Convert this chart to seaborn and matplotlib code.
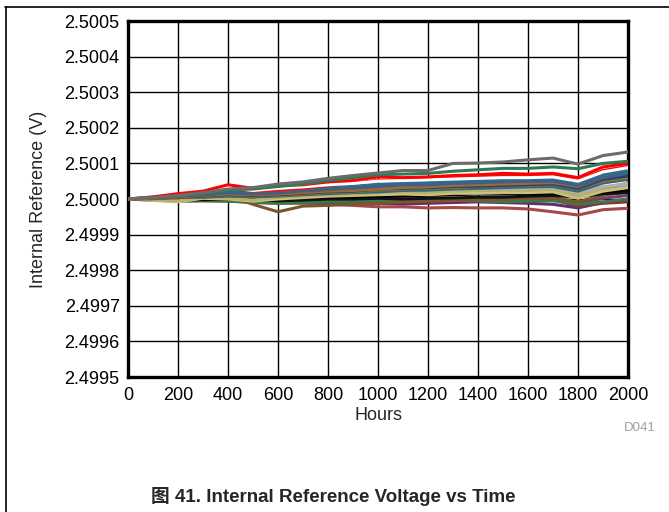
import numpy as np
import pandas as pd
import matplotlib
matplotlib.use("Agg")
import matplotlib.pyplot as plt
from matplotlib.lines import Line2D
import seaborn as sns

# time axis (hours)
hours = [0, 100, 200, 300, 400, 500, 600, 700, 800, 900, 1000,
         1100, 1200, 1300, 1400, 1500, 1600, 1700, 1800, 1900, 2000]

# drift of each unit from 2.5000 V, in microvolts
grey_top = [0, 4, 10, 18, 28, 32, 42, 48, 58, 66, 73, 80, 80, 100, 101, 104, 110, 115, 98, 122, 132]
green_top = [0, 4, 8, 15, 25, 28, 35, 42, 52, 60, 68, 70, 72, 78, 82, 86, 86, 90, 85, 100, 106]
red_a = [0, 6, 15, 22, 40, 30, 38, 40, 48, 52, 62, 60, 62, 66, 68, 72, 70, 72, 60, 90, 100]
white_a = [0, 5, 12, 18, 32, 24, 30, 34, 40, 44, 50, 52, 54, 56, 58, 60, 60, 62, 50, 76, 88]
red_b = [0, 3, 10, 18, 30, 22, 25, 30, 38, 45, 52, 55, 58, 60, 62, 65, 63, 66, 52, 80, 92]
blue_a = [0, 5, 12, 16, 22, 20, 22, 28, 32, 36, 42, 45, 46, 50, 52, 55, 56, 58, 45, 68, 80]
blue_b = [0, 3, 8, 12, 18, 15, 18, 24, 28, 32, 36, 40, 40, 44, 46, 48, 50, 50, 38, 60, 72]
brown_a = [0, 4, 10, 12, 18, 14, 16, 22, 26, 30, 35, 40, 42, 48, 50, 52, 55, 55, 42, 70, 85]
brown_b = [0, 2, 6, 10, 14, 12, 14, 18, 22, 24, 28, 32, 34, 38, 40, 42, 44, 46, 35, 60, 75]
navy = [0, 2, 5, 8, 12, 10, 12, 16, 20, 22, 28, 30, 32, 35, 36, 38, 40, 42, 30, 55, 65]
olive = [0, 1, 4, 6, 10, 8, 10, 14, 18, 20, 25, 28, 30, 32, 35, 36, 38, 40, 28, 50, 60]
teal = [0, 1, 4, 5, 8, 6, 8, 12, 15, 18, 20, 24, 25, 28, 30, 32, 34, 35, 22, 45, 55]
grey_light = [0, 3, 8, 10, 12, 10, 14, 16, 18, 20, 22, 24, 26, 28, 30, 28, 30, 32, 18, 35, 42]
khaki_a = [0, -2, -5, 5, 2, -3, 5, 8, 12, 14, 18, 20, 18, 22, 24, 25, 24, 28, 8, 32, 45]
khaki_b = [0, -4, -8, 2, 0, -6, 0, 4, 8, 10, 12, 14, 12, 16, 16, 18, 18, 20, 2, 22, 32]
grey_mid = [0, 2, 4, 6, 8, 6, 8, 10, 12, 14, 18, 18, 20, 22, 24, 22, 24, 26, 10, 28, 35]
black_a = [0, 0, -2, 0, 2, 0, 2, 4, 6, 6, 8, 8, 10, 12, 14, 14, 15, 16, 5, 20, 25]
black_b = [0, -1, -3, -2, 0, -2, -5, -3, 0, 0, 2, 0, 2, 3, 5, 5, 8, 10, 5, 15, 18]
brown_dip = [0, 2, 0, 5, 8, -15, -36, -20, -18, -15, -12, -8, -6, -4, -2, 0, 2, 4, -8, 10, 20]
green_low = [0, -3, -6, -5, -6, -9, -12, -10, -8, -6, -5, -6, -4, -3, -5, -8, -6, -5, -15, -8, 0]
maroon = [0, -1, -2, 0, -2, -4, -6, -4, -2, -4, -6, -8, -6, -5, -4, -6, -4, -2, -20, -12, -8]
purple_a = [0, -3, -6, -4, -3, -6, -8, -6, -5, -5, -4, -3, -6, -4, -2, -2, 0, 2, -12, 2, 10]
purple_b = [0, -2, -5, -3, -4, -8, -6, -8, -10, -10, -12, -14, -12, -10, -8, -10, -12, -15, -25, -10, -5]
red_dark = [0, -2, -4, -5, -6, -10, -12, -12, -14, -18, -22, -22, -25, -24, -25, -25, -28, -36, -45, -30, -26]

series = {
    "grey_top": grey_top, "green_top": green_top, "red_a": red_a, "white_a": white_a,
    "red_b": red_b, "blue_a": blue_a, "blue_b": blue_b, "brown_a": brown_a,
    "brown_b": brown_b, "navy": navy, "olive": olive, "teal": teal,
    "grey_light": grey_light, "khaki_a": khaki_a, "khaki_b": khaki_b,
    "grey_mid": grey_mid, "black_a": black_a, "black_b": black_b,
    "brown_dip": brown_dip, "green_low": green_low, "maroon": maroon,
    "purple_a": purple_a, "purple_b": purple_b, "red_dark": red_dark,
}
colors = {
    "grey_top": "#6b6b6b", "green_top": "#2f7a55", "red_a": "#ff0000", "white_a": "#ffffff",
    "red_b": "#f01010", "blue_a": "#2f6b8c", "blue_b": "#3d5f88", "brown_a": "#8a5a2c",
    "brown_b": "#9a6a3a", "navy": "#2b4068", "olive": "#8c6d3a", "teal": "#2a6a7a",
    "grey_light": "#b0b0b0", "khaki_a": "#b9b06a", "khaki_b": "#c9c27e",
    "grey_mid": "#939393", "black_a": "#000000", "black_b": "#111111",
    "brown_dip": "#7b5530", "green_low": "#3a7a4a", "maroon": "#8a3030",
    "purple_a": "#7a3a7a", "purple_b": "#6a2a6a", "red_dark": "#a84848",
}

rows = []
for name, vals in series.items():
    for h, v in zip(hours, vals):
        rows.append({"Hours": h, "unit": name, "V": 2.5 + v * 1e-6})
df = pd.DataFrame(rows)

sns.set_style("white")
plt.rcParams["font.family"] = ["Liberation Sans", "Noto Sans CJK SC", "DejaVu Sans"]

fig = plt.figure(figsize=(6.69, 5.12), dpi=100)
ax = fig.add_axes([128 / 669, 1 - 377 / 512, 500 / 669, 356 / 512])

# draw bottom-to-top so the upper traces sit on top like the reference
order = list(series.keys())[::-1]
sns.lineplot(data=df, x="Hours", y="V", hue="unit", hue_order=order,
             palette=colors, legend=False, linewidth=2.2, ax=ax, zorder=3)

ax.set_xlim(0, 2000)
ax.set_ylim(2.4995, 2.5005)
ax.set_xticks(np.arange(0, 2001, 200))
yt = np.arange(2.4995, 2.50051, 0.0001)
ax.set_yticks(yt)
ax.set_yticklabels([f"{t:.4f}" for t in yt])
ax.grid(True, color="black", linewidth=1.0)
ax.set_axisbelow(True)
for s in ax.spines.values():
    s.set_visible(True)
    s.set_color("black")
    s.set_linewidth(2.4)
ax.tick_params(axis="both", labelsize=13, length=0, colors="black")
ax.tick_params(axis="x", pad=7)
ax.tick_params(axis="y", pad=6)

ax.set_xlabel("Hours", fontsize=13)
ax.set_ylabel("Internal Reference (V)", fontsize=13)
ax.xaxis.label.set_va("center")
ax.yaxis.label.set_va("center")
ax.xaxis.set_label_coords(0.5, (377 - 416) / 356)
ax.yaxis.set_label_coords((39 - 128) / 500, 0.5)

fig.text(656 / 669, 1 - 428 / 512, "D041", fontsize=9.5, color="#a0a0a0",
         ha="right", va="center")
fig.text(333 / 669, 1 - 497 / 512, "图 41. Internal Reference Voltage vs Time",
         fontsize=13.5, fontweight="bold", ha="center", va="center")

# page frame lines (top and left)
fig.add_artist(Line2D([5 / 669, 1], [1 - 7 / 512, 1 - 7 / 512], color="black", linewidth=1.2))
fig.add_artist(Line2D([6 / 669, 6 / 669], [0, 1 - 7 / 512], color="black", linewidth=1.2))

fig.savefig("out.png", dpi=100)
